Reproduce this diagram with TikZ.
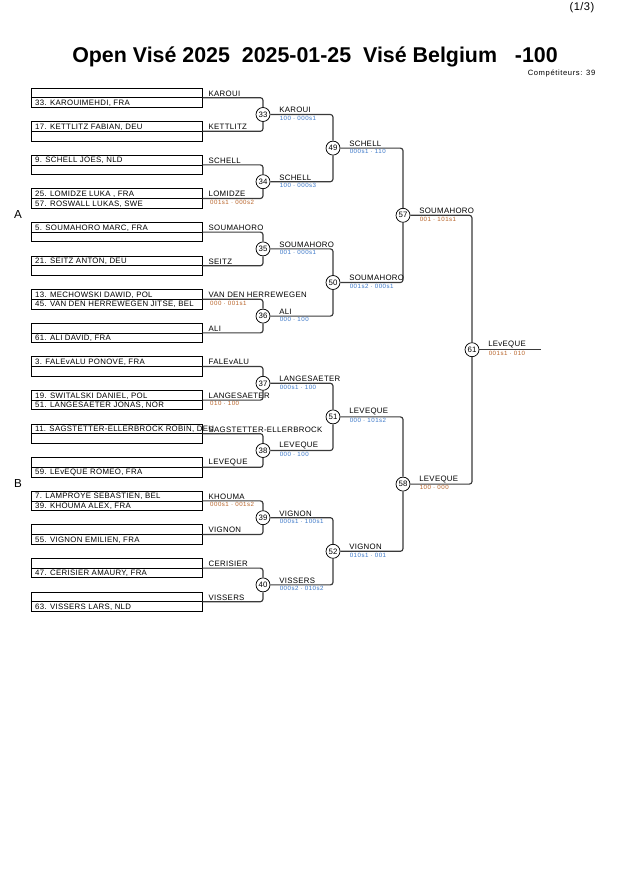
\documentclass[tikz,border=0pt]{standalone}
\usepackage{fontspec}
\setmainfont{Liberation Sans}
\newfontfamily\bracketfont[LetterSpace=4]{Liberation Sans}
\newfontfamily\scorefont[LetterSpace=8]{Liberation Sans}
\usepackage{tikz}
\usetikzlibrary{positioning}
\usepackage{xcolor}
\definecolor{ScoreBlue}{HTML}{3C78C8}
\definecolor{ScoreOrange}{HTML}{B8642A}
\definecolor{LineGrey}{HTML}{3A3A3A}

\tikzset{
  entry/.style={draw=black, line width=0.7pt, minimum width=161.5pt, minimum height=18.3pt, inner sep=0pt,
    path picture={\draw[line width=0.7pt] (path picture bounding box.west) -- (path picture bounding box.east);}},
  player/.style={anchor=west, inner sep=0pt, text height=5.3pt, text depth=0pt, font=\bracketfont\fontsize{7.4}{8}\selectfont},
  winner/.style={anchor=south west, inner sep=1.2pt, font=\bracketfont\fontsize{7.4}{8}\selectfont},
  score/.style={anchor=north west, inner sep=1.2pt, font=\scorefont\fontsize{5.8}{6.5}\selectfont},
  match/.style={circle, draw=black, line width=0.7pt, fill=white, minimum size=13.2pt, inner sep=0pt, font=\fontsize{7.4}{8}\selectfont},
  conn/.style={draw=LineGrey, line width=1.1pt, rounded corners=2.5pt},
}

\begin{document}
\begin{tikzpicture}[x=0.9444pt, y=-0.9444pt]
\useasboundingbox (0,0) rectangle (630,891);

% header
\node[font=\bracketfont\fontsize{10.5}{12}\selectfont, anchor=east] (page) at (598,8) {(1/3)};
\node[font=\fontsize{20.2}{22}\selectfont\bfseries] (title) at (315,57) {Open Visé 2025\ \ 2025-01-25\ \ Visé Belgium\ \ \ -100};
\node[font=\scorefont\fontsize{7.2}{8}\selectfont, anchor=east] (count) at (599,73) {Compétiteurs: 39};
\node[font=\fontsize{11}{12}\selectfont] (poolA) at (18,214) {A};
\node[font=\fontsize{11}{12}\selectfont] (poolB) at (18,483) {B};

% entries, pool A
\node[entry] (e0) at (116.5,97.7) {};
\node[player] (p0) at (35,102.55) {33. KAROUIMEHDI, FRA};
\node[entry] (e1) at (116.5,131.3) {};
\node[player] (p1) at (35,126.45) {17. KETTLITZ FABIAN, DEU};
\node[entry] (e2) at (116.5,164.9) {};
\node[player] (p2) at (35,160.05) {9. SCHELL JOES, NLD};
\node[entry] (e3) at (116.5,198.5) {};
\node[player] (p3) at (35,193.65) {25. LOMIDZE LUKA , FRA};
\node[player] (p3b) at (35,203.35) {57. ROSWALL LUKAS, SWE};
\node[entry] (e4) at (116.5,232.1) {};
\node[player] (p4) at (35,227.25) {5. SOUMAHORO MARC, FRA};
\node[entry] (e5) at (116.5,265.7) {};
\node[player] (p5) at (35,260.85) {21. SEITZ ANTON, DEU};
\node[entry] (e6) at (116.5,299.3) {};
\node[player] (p6) at (35,294.45) {13. MECHOWSKI DAWID, POL};
\node[player] (p6b) at (35,304.15) {45. VAN DEN HERREWEGEN JITSE, BEL};
\node[entry] (e7) at (116.5,332.9) {};
\node[player] (p7) at (35,337.75) {61. ALI DAVID, FRA};

% entries, pool B
\node[entry] (e8) at (116.5,366.5) {};
\node[player] (p8) at (35,361.65) {3. FALEvALU PONOVE, FRA};
\node[entry] (e9) at (116.5,400.1) {};
\node[player] (p9) at (35,395.25) {19. SWITALSKI DANIEL, POL};
\node[player] (p9b) at (35,404.95) {51. LANGESAETER JONAS, NOR};
\node[entry] (e10) at (116.5,433.7) {};
\node[player] (p10) at (35,428.85) {11. SAGSTETTER-ELLERBROCK ROBIN, DEU};
\node[entry] (e11) at (116.5,467.3) {};
\node[player] (p11) at (35,472.15) {59. LEvEQUE ROMEO, FRA};
\node[entry] (e12) at (116.5,500.9) {};
\node[player] (p12) at (35,496.05) {7. LAMPROYE SEBASTIEN, BEL};
\node[player] (p12b) at (35,505.75) {39. KHOUMA ALEX, FRA};
\node[entry] (e13) at (116.5,534.5) {};
\node[player] (p13) at (35,539.35) {55. VIGNON EMILIEN, FRA};
\node[entry] (e14) at (116.5,568.1) {};
\node[player] (p14) at (35,572.95) {47. CERISIER AMAURY, FRA};
\node[entry] (e15) at (116.5,601.7) {};
\node[player] (p15) at (35,606.55) {63. VISSERS LARS, NLD};

% names beside the entries
\node[winner] (w0) at ([xshift=4.5pt]e0.east) {KAROUI};
\node[winner] (w1) at ([xshift=4.5pt]e1.east) {KETTLITZ};
\node[winner] (w2) at ([xshift=4.5pt]e2.east) {SCHELL};
\node[winner] (w3) at ([xshift=4.5pt]e3.east) {LOMIDZE};
\node[winner] (w4) at ([xshift=4.5pt]e4.east) {SOUMAHORO};
\node[winner] (w5) at ([xshift=4.5pt]e5.east) {SEITZ};
\node[winner] (w6) at ([xshift=4.5pt]e6.east) {VAN DEN HERREWEGEN};
\node[winner] (w7) at ([xshift=4.5pt]e7.east) {ALI};
\node[winner] (w8) at ([xshift=4.5pt]e8.east) {FALEvALU};
\node[winner] (w9) at ([xshift=4.5pt]e9.east) {LANGESAETER};
\node[winner] (w10) at ([xshift=4.5pt]e10.east) {SAGSTETTER-ELLERBROCK};
\node[winner] (w11) at ([xshift=4.5pt]e11.east) {LEVEQUE};
\node[winner] (w12) at ([xshift=4.5pt]e12.east) {KHOUMA};
\node[winner] (w13) at ([xshift=4.5pt]e13.east) {VIGNON};
\node[winner] (w14) at ([xshift=4.5pt]e14.east) {CERISIER};
\node[winner] (w15) at ([xshift=4.5pt]e15.east) {VISSERS};
\node[score, text=ScoreOrange] (s3) at ([xshift=6pt]e3.east) {001s1 · 000s2};
\node[score, text=ScoreOrange] (s6) at ([xshift=6pt]e6.east) {000 · 001s1};
\node[score, text=ScoreOrange] (s9) at ([xshift=6pt]e9.east) {010 · 100};
\node[score, text=ScoreOrange] (s12) at ([xshift=6pt]e12.east) {000s1 · 001s2};

% first round
\node[match] (m33) at (263,114.5) {33};
\node[match] (m34) at (263,181.7) {34};
\node[match] (m35) at (263,248.9) {35};
\node[match] (m36) at (263,316.1) {36};
\node[match] (m37) at (263,383.3) {37};
\node[match] (m38) at (263,450.5) {38};
\node[match] (m39) at (263,517.7) {39};
\node[match] (m40) at (263,584.9) {40};
% second round
\node[match] (m49) at (333,148.1) {49};
\node[match] (m50) at (333,282.5) {50};
\node[match] (m51) at (333,416.9) {51};
\node[match] (m52) at (333,551.3) {52};
% semi finals and final
\node[match] (m57) at (403,215.3) {57};
\node[match] (m58) at (403,484.1) {58};
\node[match] (m61) at (472,349.7) {61};
\coordinate (fin) at (541,349.7);

\draw[conn] (e0.east) -| (m33);
\draw[conn] (e1.east) -| (m33);
\draw[conn] (e2.east) -| (m34);
\draw[conn] (e3.east) -| (m34);
\draw[conn] (e4.east) -| (m35);
\draw[conn] (e5.east) -| (m35);
\draw[conn] (e6.east) -| (m36);
\draw[conn] (e7.east) -| (m36);
\draw[conn] (e8.east) -| (m37);
\draw[conn] (e9.east) -| (m37);
\draw[conn] (e10.east) -| (m38);
\draw[conn] (e11.east) -| (m38);
\draw[conn] (e12.east) -| (m39);
\draw[conn] (e13.east) -| (m39);
\draw[conn] (e14.east) -| (m40);
\draw[conn] (e15.east) -| (m40);
\draw[conn] (m33) -| (m49);
\draw[conn] (m34) -| (m49);
\draw[conn] (m35) -| (m50);
\draw[conn] (m36) -| (m50);
\draw[conn] (m37) -| (m51);
\draw[conn] (m38) -| (m51);
\draw[conn] (m39) -| (m52);
\draw[conn] (m40) -| (m52);
\draw[conn] (m49) -| (m57);
\draw[conn] (m50) -| (m57);
\draw[conn] (m51) -| (m58);
\draw[conn] (m52) -| (m58);
\draw[conn] (m57) -| (m61);
\draw[conn] (m58) -| (m61);
\draw[conn] (m61) -- (fin);

% winners and scores
\node[winner] (w33) at ([xshift=7pt]m33.east) {KAROUI};
\node[score, text=ScoreBlue] (s33) at ([xshift=7.5pt]m33.east) {100 · 000s1};
\node[winner] (w34) at ([xshift=7pt]m34.east) {SCHELL};
\node[score, text=ScoreBlue] (s34) at ([xshift=7.5pt]m34.east) {100 · 000s3};
\node[winner] (w35) at ([xshift=7pt]m35.east) {SOUMAHORO};
\node[score, text=ScoreBlue] (s35) at ([xshift=7.5pt]m35.east) {001 · 000s1};
\node[winner] (w36) at ([xshift=7pt]m36.east) {ALI};
\node[score, text=ScoreBlue] (s36) at ([xshift=7.5pt]m36.east) {000 · 100};
\node[winner] (w37) at ([xshift=7pt]m37.east) {LANGESAETER};
\node[score, text=ScoreBlue] (s37) at ([xshift=7.5pt]m37.east) {000s1 · 100};
\node[winner] (w38) at ([xshift=7pt]m38.east) {LEVEQUE};
\node[score, text=ScoreBlue] (s38) at ([xshift=7.5pt]m38.east) {000 · 100};
\node[winner] (w39) at ([xshift=7pt]m39.east) {VIGNON};
\node[score, text=ScoreBlue] (s39) at ([xshift=7.5pt]m39.east) {000s1 · 100s1};
\node[winner] (w40) at ([xshift=7pt]m40.east) {VISSERS};
\node[score, text=ScoreBlue] (s40) at ([xshift=7.5pt]m40.east) {000s2 · 010s2};
\node[winner] (w49) at ([xshift=7pt]m49.east) {SCHELL};
\node[score, text=ScoreBlue] (s49) at ([xshift=7.5pt]m49.east) {000s1 · 110};
\node[winner] (w50) at ([xshift=7pt]m50.east) {SOUMAHORO};
\node[score, text=ScoreBlue] (s50) at ([xshift=7.5pt]m50.east) {001s2 · 000s1};
\node[winner] (w51) at ([xshift=7pt]m51.east) {LEVEQUE};
\node[score, text=ScoreBlue] (s51) at ([xshift=7.5pt]m51.east) {000 · 101s2};
\node[winner] (w52) at ([xshift=7pt]m52.east) {VIGNON};
\node[score, text=ScoreBlue] (s52) at ([xshift=7.5pt]m52.east) {010s1 · 001};
\node[winner] (w57) at ([xshift=7pt]m57.east) {SOUMAHORO};
\node[score, text=ScoreOrange] (s57) at ([xshift=7.5pt]m57.east) {001 · 101s1};
\node[winner] (w58) at ([xshift=7pt]m58.east) {LEVEQUE};
\node[score, text=ScoreOrange] (s58) at ([xshift=7.5pt]m58.east) {100 · 000};
\node[winner] (w61) at ([xshift=7pt]m61.east) {LEvEQUE};
\node[score, text=ScoreOrange] (s61) at ([xshift=7.5pt]m61.east) {001s1 · 010};
\end{tikzpicture}
\end{document}
